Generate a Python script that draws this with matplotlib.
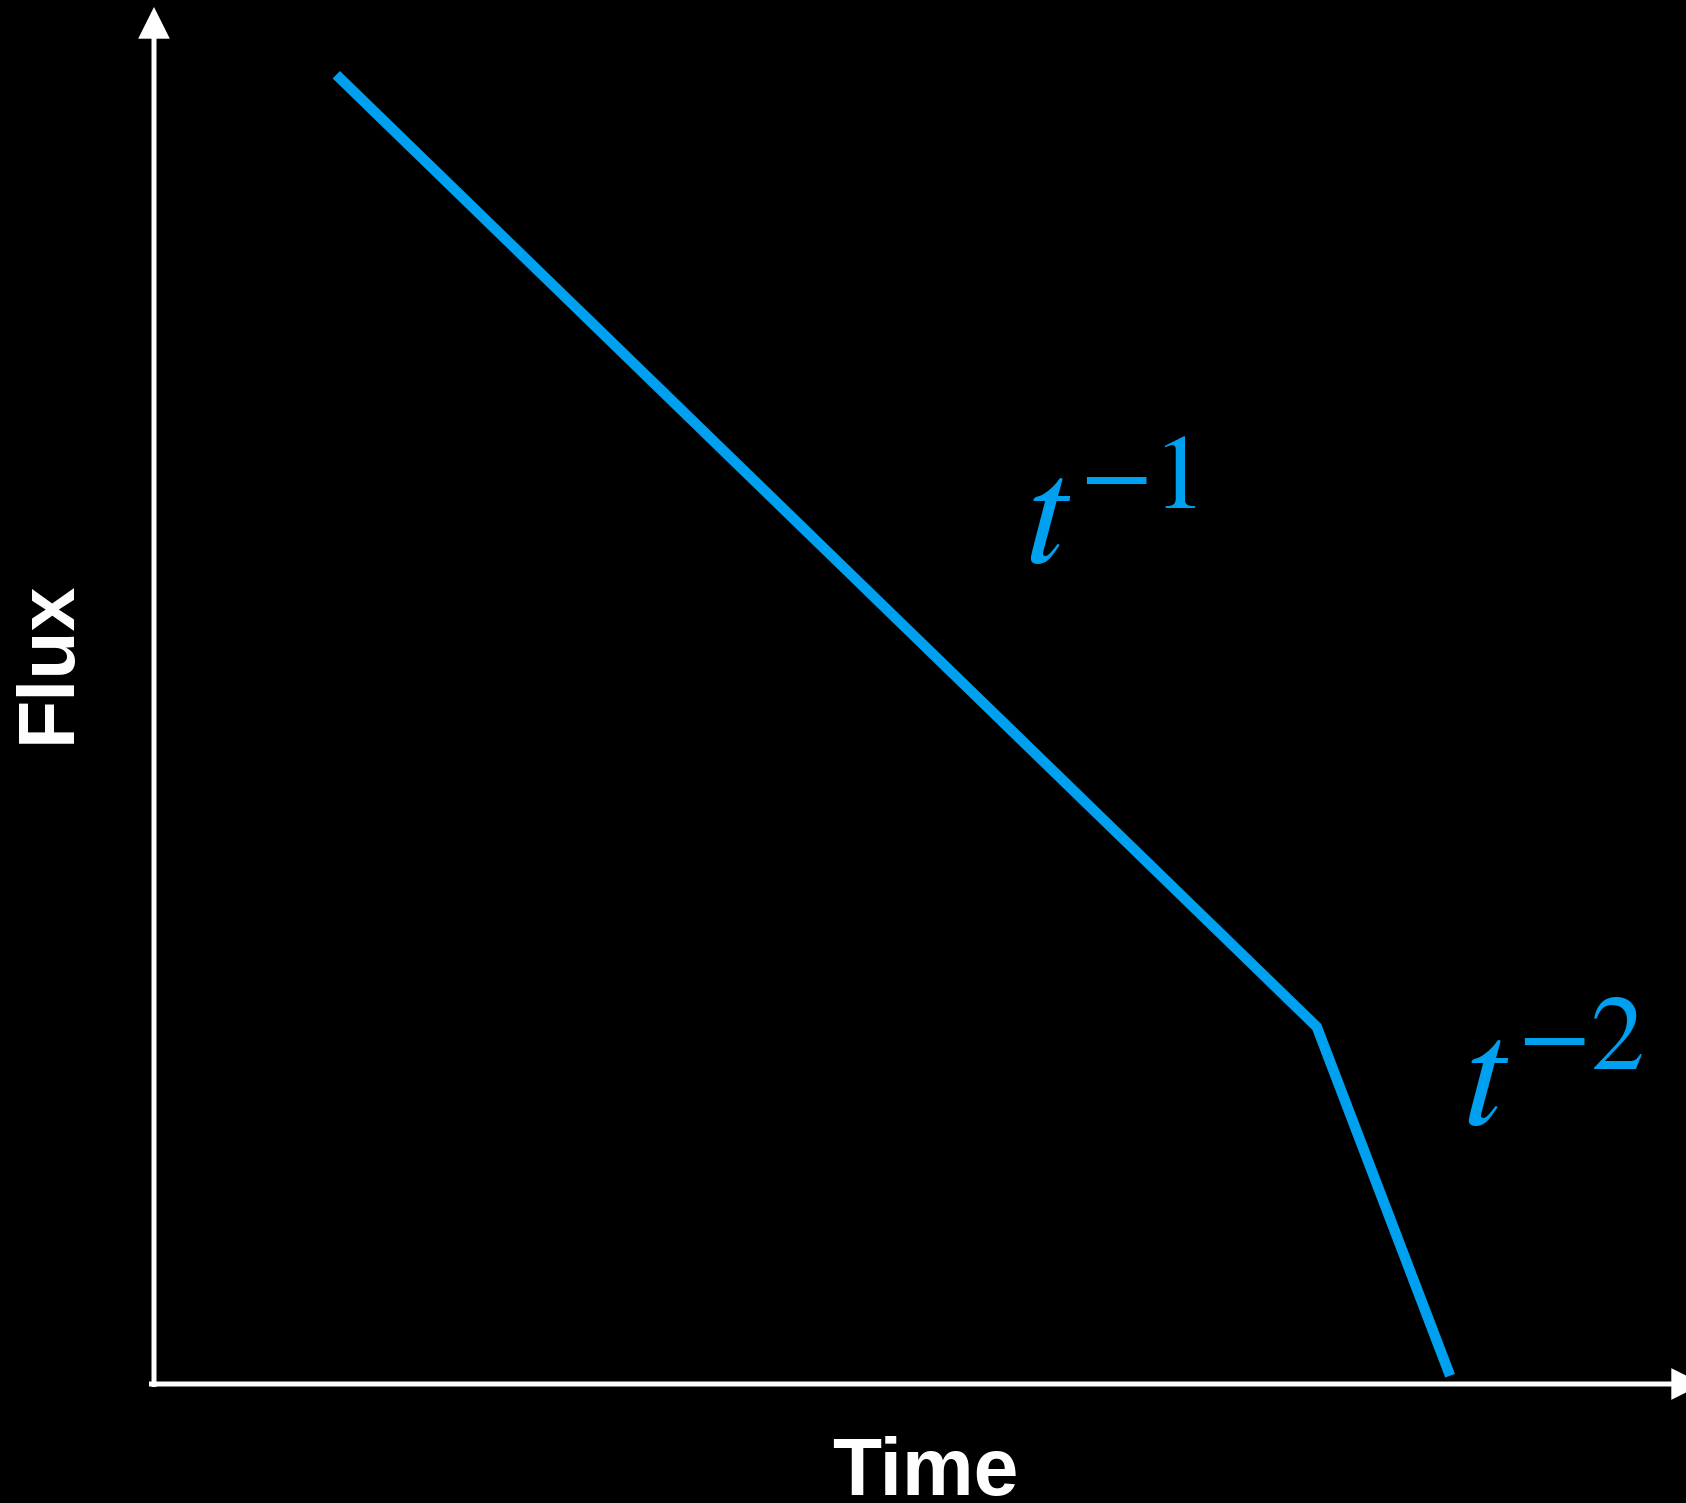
import matplotlib
matplotlib.use("Agg")
import matplotlib.pyplot as plt
from matplotlib.patches import FancyArrowPatch

# broken power-law light curve (arbitrary log units)
time = [1.19, 7.59, 8.46]
flux = [9.46, 2.58, 0.06]
slope_labels = [r"$t^{-1}$", r"$t^{-2}$"]
label_time = [6.24, 9.13]
label_flux = [6.24, 2.18]

blue = "#00A0F0"
W, H = 1686, 1503
plt.rcParams["mathtext.fontset"] = "stix"

fig = plt.figure(figsize=(W / 100, H / 100), dpi=100, facecolor="black")
ax = fig.add_axes([154 / W, (H - 1384) / H, (W - 154) / W, 1384 / H])
ax.set_facecolor("black")
ax.set_xlim(0, 10)
ax.set_ylim(0, 10)
ax.axis("off")

ax.plot(time, flux, color=blue, lw=7.5, solid_capstyle="butt",
        solid_joinstyle="miter", clip_on=False)
for s, x, y in zip(slope_labels, label_time, label_flux):
    ax.text(x, y, s, color=blue, fontsize=110, ha="center", va="center")

# axes drawn as arrows (figure pixel coords)
def axis_arrow(p0, p1):
    a = FancyArrowPatch(p0, p1, transform=None, arrowstyle="-|>,head_length=17,head_width=8.5",
                        mutation_scale=1, lw=3.6, color="white", shrinkA=0, shrinkB=0,
                        joinstyle="miter", capstyle="butt")
    fig.add_artist(a)

axis_arrow((154, H - 1387), (154, H - 7))
axis_arrow((149, H - 1384), (1703, H - 1384))

fig.text(925 / W, 1 - 1474 / H, "Time", color="white", fontsize=58,
         fontweight="bold", family="Liberation Sans", ha="center", va="center")
fig.text(49 / W, 1 - 662 / H, "Flux", color="white", fontsize=57, rotation=90,
         fontweight="bold", family="Liberation Sans", ha="center", va="center")

fig.savefig("out.png", dpi=100, facecolor="black")
